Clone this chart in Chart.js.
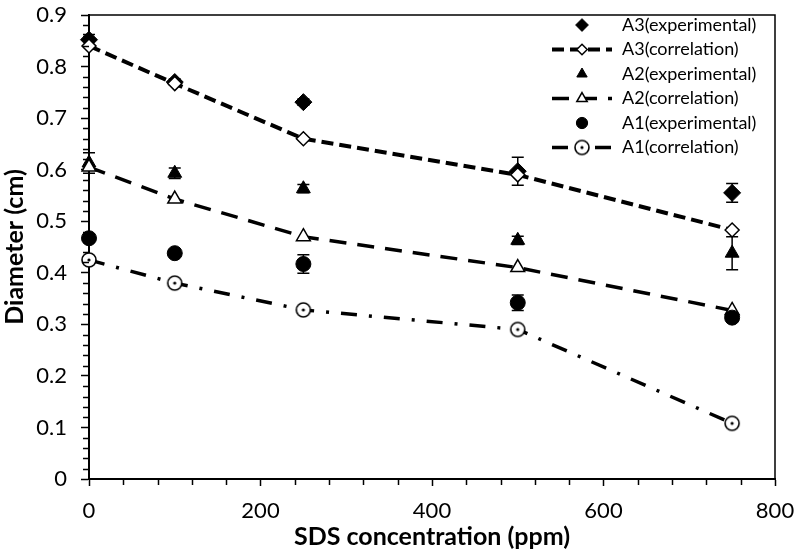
<!DOCTYPE html>
<html>
<head>
<meta charset="utf-8">
<script src="https://cdn.jsdelivr.net/npm/chart.js@4.4.1/dist/chart.umd.min.js"></script>
<style>
  html, body { margin: 0; padding: 0; background: #fff; }
  #wrap { width: 796px; height: 552px; }
</style>
</head>
<body>
<div id="wrap"><canvas id="chart"></canvas></div>
<script>
// data
const sds = [0, 100, 250, 500, 750];
const a3Exp = [0.852, 0.770, 0.731, 0.597, 0.555];
const a3ExpErr = [0.010, 0.006, 0.006, 0.027, 0.018];
const a3Corr = [0.840, 0.767, 0.660, 0.590, 0.483];
const a2Exp = [0.613, 0.593, 0.563, 0.463, 0.438];
const a2ExpErr = [0.020, 0.010, 0.008, 0.008, 0.032];
const a2Corr = [0.605, 0.543, 0.470, 0.410, 0.327];
const a1Exp = [0.467, 0.438, 0.417, 0.342, 0.313];
const a1ExpErr = [0.008, 0.006, 0.018, 0.015, 0.008];
const a1Corr = [0.425, 0.380, 0.328, 0.290, 0.108];
const xTickLabels = ['0', '200', '400', '600', '800'];
const yTickLabels = ['0', '0.1', '0.2', '0.3', '0.4', '0.5', '0.6', '0.7', '0.8', '0.9'];

const FONT = 'Lato, "Open Sans", sans-serif';

const toPoints = vals => vals.map((v, i) => ({ x: sds[i], y: v }));

// open circle with a dot in the middle
const circleDot = document.createElement('canvas');
circleDot.width = 18; circleDot.height = 18;
(function () {
  const c = circleDot.getContext('2d');
  c.beginPath(); c.arc(9, 9, 7, 0, Math.PI * 2);
  c.fillStyle = '#fff'; c.fill();
  c.lineWidth = 1.6; c.strokeStyle = '#000'; c.stroke();
  c.beginPath(); c.arc(9, 9, 1.6, 0, Math.PI * 2);
  c.fillStyle = '#000'; c.fill();
})();

const datasets = [
  { label: 'A3(experimental)', data: toPoints(a3Exp), err: a3ExpErr, showLine: false,
    pointStyle: 'rectRot', pointRadius: 8.5, backgroundColor: '#000', borderColor: '#000', order: 6 },
  { label: 'A3(correlation)', data: toPoints(a3Corr), showLine: true, borderDash: [12, 6], borderWidth: 4,
    pointStyle: 'rectRot', pointRadius: 7, pointBorderWidth: 1.5, pointBackgroundColor: '#fff',
    backgroundColor: '#fff', borderColor: '#000', order: 5 },
  { label: 'A2(experimental)', data: toPoints(a2Exp), err: a2ExpErr, showLine: false,
    pointStyle: 'triangle', pointRadius: 8, backgroundColor: '#000', borderColor: '#000', order: 4 },
  { label: 'A2(correlation)', data: toPoints(a2Corr), showLine: true, borderDash: [17, 11], borderWidth: 3.5,
    pointStyle: 'triangle', pointRadius: 8, pointBorderWidth: 1.5, pointBackgroundColor: '#fff',
    backgroundColor: '#fff', borderColor: '#000', order: 3 },
  { label: 'A1(experimental)', data: toPoints(a1Exp), err: a1ExpErr, showLine: false,
    pointStyle: 'circle', pointRadius: 7.5, backgroundColor: '#000', borderColor: '#000', order: 2 },
  { label: 'A1(correlation)', data: toPoints(a1Corr), showLine: true, borderDash: [16, 12, 3, 12], borderWidth: 3.5,
    pointStyle: circleDot, pointRadius: 8, backgroundColor: '#fff', borderColor: '#000', order: 1 }
];
datasets.forEach(ds => { ds.clip = false; });

// error bars for the experimental series
const errorBars = {
  id: 'errorBars',
  beforeDatasetsDraw(chart) {
    const { ctx, scales: { x, y } } = chart;
    ctx.save();
    ctx.strokeStyle = '#000';
    ctx.lineWidth = 1.5;
    chart.data.datasets.forEach(ds => {
      if (!ds.err) return;
      ds.data.forEach((p, i) => {
        const px = x.getPixelForValue(p.x);
        const top = y.getPixelForValue(p.y + ds.err[i]);
        const bot = y.getPixelForValue(p.y - ds.err[i]);
        ctx.beginPath();
        ctx.moveTo(px, top); ctx.lineTo(px, bot);
        ctx.moveTo(px - 6, top); ctx.lineTo(px + 6, top);
        ctx.moveTo(px - 6, bot); ctx.lineTo(px + 6, bot);
        ctx.stroke();
      });
    });
    ctx.restore();
  }
};

// plot box, minor ticks
const frame = {
  id: 'frame',
  afterDraw(chart) {
    const { ctx, chartArea: a, scales: { x, y } } = chart;
    ctx.save();
    ctx.strokeStyle = '#000';
    ctx.lineWidth = 1.5;
    ctx.beginPath();
    ctx.moveTo(a.left, a.top); ctx.lineTo(a.right, a.top); ctx.lineTo(a.right, a.bottom);
    ctx.stroke();
    ctx.beginPath();
    for (let v = 40; v < 800; v += 40) {
      if (v % 200 === 0) continue;
      const px = Math.round(x.getPixelForValue(v)) + 0.5;
      ctx.moveTo(px, a.bottom); ctx.lineTo(px, a.bottom + 6);
    }
    for (let k = 1; k < 45; k++) {
      if (k % 5 === 0) continue;
      const py = Math.round(y.getPixelForValue(k * 0.02)) + 0.5;
      ctx.moveTo(a.left, py); ctx.lineTo(a.left - 6, py);
    }
    ctx.stroke();
    ctx.restore();
  }
};

// legend inside the plot, top right
const sideLegend = {
  id: 'sideLegend',
  afterDraw(chart) {
    const { ctx } = chart;
    const x0 = 552, x1 = 612, tx = 622, y0 = 25, dy = 24.5;
    ctx.save();
    ctx.font = '18px ' + FONT;
    ctx.textBaseline = 'middle';
    chart.data.datasets.forEach((ds, i) => {
      const cy = y0 + i * dy;
      const cx = (x0 + x1) / 2;
      if (ds.showLine) {
        ctx.save();
        ctx.strokeStyle = '#000';
        ctx.lineWidth = ds.borderWidth;
        ctx.setLineDash(ds.borderDash);
        ctx.beginPath(); ctx.moveTo(x0, cy); ctx.lineTo(x1, cy); ctx.stroke();
        ctx.restore();
      }
      ctx.save();
      ctx.fillStyle = ds.pointBackgroundColor || ds.backgroundColor;
      ctx.strokeStyle = '#000';
      ctx.lineWidth = ds.pointBorderWidth || 1;
      Chart.helpers.drawPoint(ctx, {
        pointStyle: ds.pointStyle, radius: ds.pointRadius * 0.75, rotation: 0,
        borderWidth: ds.pointBorderWidth || 1
      }, cx, cy);
      ctx.restore();
      ctx.fillStyle = '#000';
      ctx.fillText(ds.label, tx, cy);
    });
    ctx.restore();
  }
};

new Chart(document.getElementById('chart'), {
  type: 'scatter',
  data: { datasets },
  plugins: [errorBars, frame, sideLegend],
  options: {
    responsive: true,
    maintainAspectRatio: false,
    animation: false,
    events: [],
    layout: { padding: { left: 0, right: 21, top: 15, bottom: 0 } },
    plugins: { legend: { display: false }, tooltip: { enabled: false } },
    scales: {
      x: {
        type: 'linear', min: 0, max: 800,
        afterBuildTicks: s => { s.ticks = xTickLabels.map(t => ({ value: Number(t) })); },
        afterFit: s => { s.height = 73; s.paddingLeft = 0; s.paddingRight = 0; },
        ticks: { callback: (v, i) => xTickLabels[i], color: '#000', font: { family: FONT, size: 22 }, padding: 12, maxRotation: 0 },
        grid: { drawOnChartArea: false, color: '#000', tickLength: 7, tickWidth: 1.5 },
        border: { color: '#000', width: 2 },
        title: { display: true, text: 'SDS concentration (ppm)', color: '#000',
                 font: { family: FONT, size: 25, weight: 'bold' }, padding: { top: 0, bottom: 0 } }
      },
      y: {
        type: 'linear', min: 0, max: 0.9,
        afterBuildTicks: s => { s.ticks = yTickLabels.map(t => ({ value: Number(t) })); },
        afterFit: s => { s.width = 89; s.paddingTop = 0; s.paddingBottom = 0; },
        ticks: { callback: (v, i) => yTickLabels[i], color: '#000', font: { family: FONT, size: 22 }, padding: 14 },
        grid: { drawOnChartArea: false, color: '#000', tickLength: 8, tickWidth: 1.5 },
        border: { color: '#000', width: 2 },
        title: { display: true, text: 'Diameter (cm)', color: '#000',
                 font: { family: FONT, size: 25, weight: 'bold' }, padding: { top: 0, bottom: 0 } }
      }
    }
  }
});
</script>
</body>
</html>
